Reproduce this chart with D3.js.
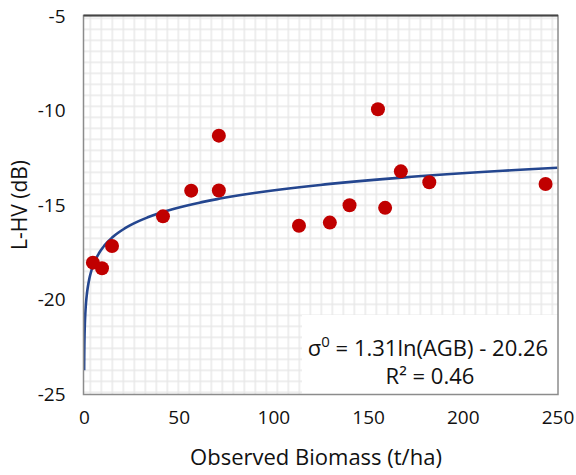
<!DOCTYPE html>
<html>
<head>
<meta charset="utf-8">
<script src="https://cdn.jsdelivr.net/npm/d3@7/dist/d3.min.js"></script>
<style>
  html, body { margin: 0; padding: 0; background: #fff; }
  svg { display: block; }
  text { font-family: "Open Sans", sans-serif; fill: #111; }
</style>
</head>
<body>
<svg id="chart" width="576" height="475"></svg>
<script>
// ---- data ----
const biomass = [4.7, 9.5, 14.8, 41.7, 56.6, 71.2, 71.2, 113.5, 129.8, 140.2, 155.2, 159.0, 167.3, 182.3, 243.7];
const lhv     = [-18.05, -18.35, -17.17, -15.6, -14.24, -11.33, -14.23, -16.1, -15.93, -15.01, -9.93, -15.15, -13.22, -13.8, -13.89];
const xTicks = [0, 50, 100, 150, 200, 250];
const yTicks = [-25, -20, -15, -10, -5];
const fitA = 1.31, fitB = -20.26;
const fitStart = 0.07, fitEnd = 250;
const eqLine1 = ["σ", "0", " = 1.31ln(AGB) - 20.26"];
const eqLine2 = "R² = 0.46";
const xTitle = "Observed Biomass (t/ha)";
const yTitle = "L-HV (dB)";

const svg = d3.select("#chart");
const L = 83.5, R = 558, T = 15.5, B = 394.5;
const x = d3.scaleLinear().domain([0, 250]).range([84, 557.5]);
const y = d3.scaleLinear().domain([-25, -5]).range([394, 16]);

// plot background grid pattern (fixed pixel pattern like the source)
const defs = svg.append("defs");
const pat = defs.append("pattern").attr("id", "grid").attr("patternUnits", "userSpaceOnUse")
  .attr("width", 11).attr("height", 11).attr("x", L + 6).attr("y", T + 2);
pat.append("rect").attr("width", 11).attr("height", 11).attr("fill", "#fff");
pat.append("line").attr("x1", 0.75).attr("x2", 0.75).attr("y1", 0).attr("y2", 11).attr("stroke", "#e8e8e8").attr("stroke-width", 1.5);
pat.append("line").attr("y1", 0.75).attr("y2", 0.75).attr("x1", 0).attr("x2", 11).attr("stroke", "#e8e8e8").attr("stroke-width", 1.5);

svg.append("rect").attr("x", L).attr("y", T).attr("width", R - L).attr("height", B - T).attr("fill", "url(#grid)");

// clip
defs.append("clipPath").attr("id", "clip").append("rect").attr("x", L).attr("y", T).attr("width", R - L).attr("height", B - T);

// equation label background
svg.append("rect").attr("x", 302).attr("y", 315).attr("width", R - 302).attr("height", B - 315).attr("fill", "#fff");

// trend line
const fitX = d3.range(0, 401).map(i => fitStart * Math.pow(fitEnd / fitStart, i / 400));
const line = d3.line().x(d => x(d)).y(d => y(fitA * Math.log(d) + fitB)).curve(d3.curveLinear);
svg.append("path").datum(fitX).attr("d", line).attr("fill", "none")
  .attr("stroke", "#24468f").attr("stroke-width", 2.6).attr("clip-path", "url(#clip)");

// points
svg.append("g").selectAll("circle").data(biomass).join("circle")
  .attr("cx", d => x(d)).attr("cy", (d, i) => y(lhv[i])).attr("r", 7)
  .attr("fill", "#c00000");

// frame
svg.append("rect").attr("x", L).attr("y", T).attr("width", R - L).attr("height", B - T)
  .attr("fill", "none").attr("stroke", "#8c8c8c").attr("stroke-width", 1.5);
svg.append("line").attr("x1", L).attr("x2", R).attr("y1", T).attr("y2", T)
  .attr("stroke", "#444").attr("stroke-width", 1.8);

// axes
const fmt = d => String(d);
const xAxis = d3.axisBottom(x).tickValues(xTicks).tickSize(0).tickPadding(16).tickFormat(fmt);
const gx = svg.append("g").attr("transform", `translate(0,${B})`).call(xAxis);
gx.select(".domain").remove();
gx.selectAll("text").attr("font-size", 19).style("font-family", "'Open Sans', sans-serif").attr("fill", "#111");

const yAxis = d3.axisLeft(y).tickValues(yTicks).tickSize(0).tickPadding(18).tickFormat(fmt);
const gy = svg.append("g").attr("transform", `translate(${L},0)`).call(yAxis);
gy.select(".domain").remove();
gy.selectAll("text").attr("font-size", 19).style("font-family", "'Open Sans', sans-serif").attr("fill", "#111");

// titles
svg.append("text").attr("x", 316).attr("y", 465).attr("text-anchor", "middle")
  .attr("font-size", 22).text(xTitle);
svg.append("text").attr("transform", "translate(27,205) rotate(-90)").attr("text-anchor", "middle")
  .attr("font-size", 21).text(yTitle);

// equation
const eq = svg.append("text").attr("x", 428).attr("y", 356).attr("text-anchor", "middle").attr("font-size", 22);
eq.append("tspan").text(eqLine1[0]);
eq.append("tspan").attr("dy", -9).attr("font-size", 15).text(eqLine1[1]);
eq.append("tspan").attr("dy", 9).text(eqLine1[2]);
svg.append("text").attr("x", 430).attr("y", 384).attr("text-anchor", "middle").attr("font-size", 22).text(eqLine2);
</script>
</body>
</html>
